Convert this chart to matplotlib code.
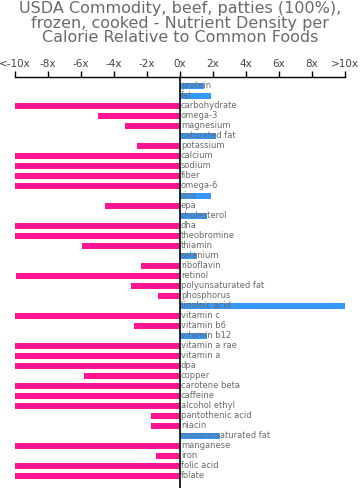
import numpy as np
import matplotlib.pyplot as plt

nutrients = ["protein", "fat", "carbohydrate", "omega-3", "magnesium", "saturated fat",
             "potassium", "calcium", "sodium", "fiber", "omega-6", "zinc", "epa",
             "cholesterol", "dha", "theobromine", "thiamin", "selenium", "riboflavin",
             "retinol", "polyunsaturated fat", "phosphorus", "linoleic acid", "vitamin c",
             "vitamin b6", "vitamin b12", "vitamin a rae", "vitamin a", "dpa", "copper",
             "carotene beta", "caffeine", "alcohol ethyl", "pantothenic acid", "niacin",
             "monounsaturated fat", "manganese", "iron", "folic acid", "folate"]
values = [1.45, 1.88, -10, -4.95, -3.33, 2.18,
          -2.6, -10, -10, -10, -10, 1.88, -4.55,
          1.62, -10, -10, -5.96, 1.01, -2.34,
          -9.94, -2.95, -1.33, 9.98, -10,
          -2.79, 1.66, -10, -10, -10, -5.8,
          -10, -10, -10, -1.78, -1.74,
          2.42, -10, -1.45, -10, -10]
tick_vals = [-10, -8, -6, -4, -2, 0, 2, 4, 6, 8, 10]
tick_labels = ["<-10x", "-8x", "-6x", "-4x", "-2x", "0x", "2x", "4x", "6x", "8x", ">10x"]

pink = "#ff1493"
blue = "#3399ff"

fig = plt.figure(figsize=(3.6, 4.98), dpi=100)
ax = fig.add_axes([15/360, 1-488/498, 330/360, 411/498])

y = np.arange(len(nutrients))
colors = [blue if v > 0 else pink for v in values]
ax.barh(y, values, height=0.68, color=colors, zorder=1)
for i, name in enumerate(nutrients):
    ax.text(0.05, i, name, fontsize=6, color="#6a6a6a", va="center", ha="left", zorder=3)

ax.axvline(0, color="black", lw=1.2, zorder=4)
ax.set_xlim(-10, 10)
ax.set_ylim(40.2, -0.9)

ax.xaxis.set_ticks_position("top")
ax.set_xticks(tick_vals)
ax.set_xticklabels(tick_labels, fontsize=7.5, color="#444444")
ax.tick_params(axis="x", length=4.5, width=1, pad=1.5)
ax.set_yticks([])
for s in ["bottom", "left", "right"]:
    ax.spines[s].set_visible(False)
ax.spines["top"].set_linewidth(1)

fig.text(0.5, 0.997, "USDA Commodity, beef, patties (100%),\nfrozen, cooked - Nutrient Density per\nCalorie Relative to Common Foods",
         ha="center", va="top", fontsize=11.5, color="#6a6a6a", linespacing=0.95)

fig.savefig("out.png", dpi=100)
